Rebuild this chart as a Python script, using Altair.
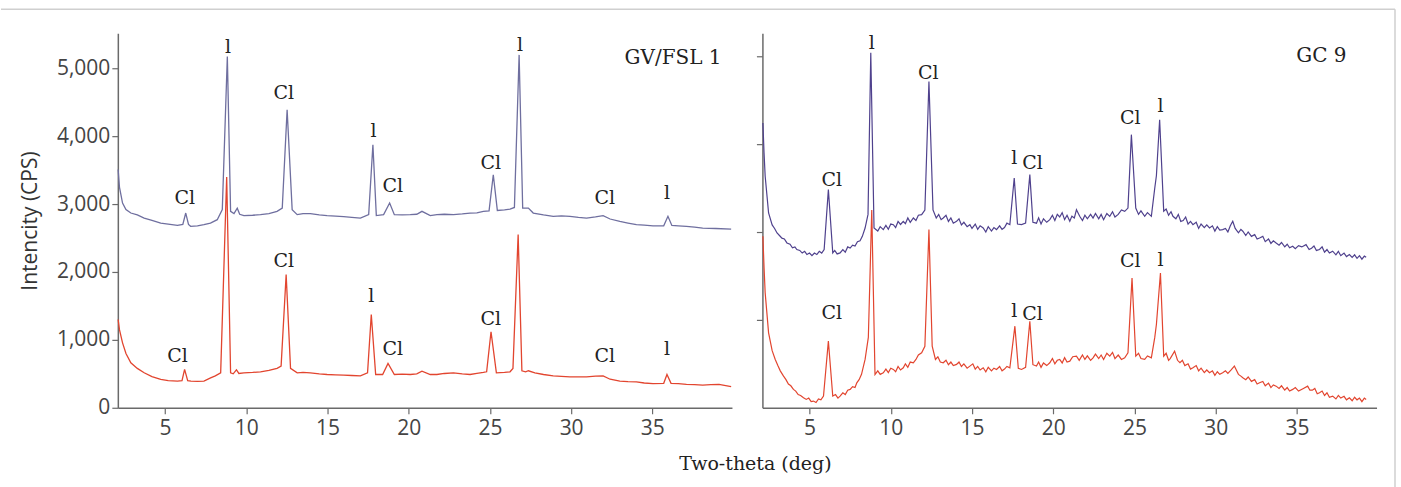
import altair as alt
import pandas as pd

# ---------------- data ----------------
# GV/FSL 1, upper trace (purple-grey)
gv_top_x = [2.12, 2.2, 2.39, 2.6, 2.9, 3.3, 3.72, 4.2, 4.74, 5.2, 5.77, 6.1, 6.28, 6.45, 6.58, 7.0, 7.4, 7.8, 8.22, 8.53, 8.84, 9.04, 9.25, 9.45, 9.6, 9.86, 10.4, 10.88, 11.4, 11.9, 12.22, 12.52, 12.83, 13.14, 13.5, 13.95, 14.5, 14.98, 15.5, 16.0, 16.5, 17.03, 17.54, 17.8, 18.01, 18.46, 18.83, 19.12, 19.6, 20.1, 20.5, 20.82, 21.33, 21.74, 22.2, 22.76, 23.3, 23.78, 24.2, 24.6, 24.95, 25.21, 25.46, 25.9, 26.24, 26.51, 26.8, 27.02, 27.37, 27.67, 28.3, 28.9, 29.4, 29.93, 30.45, 30.95, 31.5, 31.97, 32.4, 33.0, 33.5, 34.02, 34.5, 35.04, 35.7, 35.96, 36.2, 36.6, 37.1, 37.6, 38.1, 38.9, 39.85]
gv_top_y = [3510, 3250, 3015, 2920, 2868, 2840, 2794, 2760, 2720, 2705, 2687, 2700, 2868, 2700, 2672, 2680, 2697, 2720, 2770, 2918, 5172, 2893, 2860, 2940, 2850, 2830, 2835, 2844, 2860, 2893, 2941, 4388, 2918, 2844, 2860, 2859, 2840, 2830, 2822, 2815, 2805, 2794, 2844, 3874, 2830, 2844, 3015, 2844, 2840, 2844, 2850, 2893, 2830, 2844, 2850, 2844, 2855, 2868, 2870, 2893, 2900, 3432, 2905, 2915, 2925, 2950, 5197, 2940, 2940, 2868, 2840, 2820, 2825, 2820, 2805, 2794, 2810, 2830, 2780, 2745, 2720, 2696, 2690, 2680, 2680, 2819, 2685, 2680, 2672, 2660, 2647, 2640, 2632]

# GV/FSL 1, lower trace (red)
gv_bot_x = [2.12, 2.2, 2.39, 2.6, 2.9, 3.3, 3.72, 4.2, 4.74, 5.2, 5.77, 6.05, 6.21, 6.4, 6.6, 7.0, 7.4, 7.81, 8.1, 8.43, 8.8, 9.04, 9.2, 9.4, 9.55, 9.86, 10.4, 10.88, 11.4, 11.9, 12.15, 12.46, 12.73, 13.14, 13.5, 13.95, 14.5, 14.98, 15.5, 16.0, 16.5, 17.03, 17.47, 17.7, 17.97, 18.4, 18.73, 19.12, 19.6, 20.1, 20.5, 20.82, 21.33, 21.74, 22.2, 22.76, 23.3, 23.78, 24.2, 24.6, 24.8, 25.07, 25.4, 25.9, 26.24, 26.42, 26.74, 26.97, 27.2, 27.37, 27.77, 28.3, 28.9, 29.4, 29.93, 30.45, 30.95, 31.5, 31.97, 32.4, 33.0, 33.5, 34.02, 34.5, 35.04, 35.7, 35.9, 36.15, 36.6, 37.1, 37.6, 38.1, 38.6, 39.1, 39.85]
gv_bot_y = [1300, 1150, 956, 800, 662, 580, 515, 460, 417, 400, 393, 400, 565, 400, 393, 390, 393, 441, 470, 515, 3400, 515, 500, 560, 505, 515, 520, 530, 550, 580, 613, 1962, 580, 515, 520, 515, 500, 490, 485, 480, 475, 470, 515, 1374, 490, 490, 653, 490, 495, 490, 500, 540, 490, 490, 505, 515, 500, 490, 505, 520, 530, 1120, 515, 520, 530, 580, 2550, 545, 530, 545, 515, 490, 470, 462, 455, 455, 455, 465, 470, 420, 393, 385, 380, 365, 355, 360, 490, 360, 355, 345, 340, 333, 340, 345, 310]

# GC 9, upper trace (purple)
gc_top_x = [2.13, 2.2, 2.27, 2.48, 2.7, 2.85, 3.0, 3.15, 3.3, 3.45, 3.61, 3.8, 3.95, 4.1, 4.22, 4.4, 4.55, 4.7, 4.84, 5.0, 5.15, 5.3, 5.45, 5.6, 5.75, 5.9, 6.16, 6.43, 6.55, 6.7, 6.88, 7.05, 7.2, 7.35, 7.5, 7.65, 7.8, 7.95, 8.11, 8.25, 8.42, 8.6, 8.77, 8.97,
            9.2, 9.35, 9.54, 9.7, 9.85, 10.0, 10.16, 10.3, 10.45, 10.6, 10.77, 10.9, 11.05, 11.2, 11.39, 11.55, 11.7, 11.9, 12.1, 12.35, 12.6, 12.8, 12.95, 13.1, 13.23, 13.4, 13.55, 13.7, 13.85, 14.05, 14.2, 14.35, 14.5, 14.7, 14.87, 15.0, 15.2, 15.35, 15.5, 15.69, 15.85, 16.0, 16.2, 16.35, 16.51, 16.7, 16.85, 17.0, 17.15, 17.33, 17.6, 17.8, 18.05, 18.3, 18.56, 18.75, 18.97,
            19.1, 19.25, 19.4, 19.6, 19.79, 19.95, 20.1, 20.25, 20.4, 20.55, 20.7, 20.85, 21.02, 21.15, 21.3, 21.43, 21.63, 21.8, 21.95, 22.1, 22.3, 22.45, 22.6, 22.8, 22.95, 23.1, 23.3, 23.48, 23.65, 23.8, 24.0, 24.2, 24.4, 24.6, 24.81, 25.08, 25.25, 25.4, 25.63, 25.8, 26.04, 26.25, 26.35, 26.55, 26.8, 26.95, 27.1, 27.25, 27.37, 27.55, 27.7, 27.85, 28.0, 28.15, 28.3, 28.45, 28.6, 28.8, 28.95, 29.1, 29.3, 29.45, 29.62, 29.8, 29.95,
            30.1, 30.25, 30.43, 30.6, 30.75, 30.9, 31.05, 31.2, 31.4, 31.55, 31.67, 31.85, 32.0, 32.2, 32.4, 32.55, 32.7, 32.9, 33.05, 33.25, 33.4, 33.55, 33.72, 33.9, 34.05, 34.25, 34.4, 34.55, 34.74, 34.9, 35.1, 35.3, 35.56, 35.75, 35.9, 36.05, 36.2, 36.39, 36.55, 36.7, 36.85, 37.0, 37.2, 37.4, 37.55, 37.7, 37.9, 38.05, 38.23, 38.4, 38.55, 38.7, 38.85, 39.0, 39.15, 39.26]
gc_top_y = [3239, 2900, 2633, 2216, 2080, 2040, 1989, 1960, 1930, 1920, 1875, 1860, 1820, 1830, 1800, 1790, 1760, 1780, 1743, 1760, 1730, 1760, 1743, 1780, 1760, 1800, 2482, 1762, 1790, 1750, 1762, 1800, 1770, 1830, 1817, 1850, 1840, 1890, 1900, 1950, 2045, 2200, 4040, 2045,
            2010, 2060, 2027, 2075, 2030, 2090, 2083, 2050, 2120, 2085, 2121, 2095, 2160, 2110, 2159, 2130, 2190, 2197, 2250, 3712, 2250, 2159, 2200, 2140, 2159, 2190, 2120, 2160, 2100, 2121, 2150, 2080, 2110, 2060, 2083, 2040, 2090, 2030, 2070, 2045, 2000, 2060, 2010, 2050, 2027, 2070, 2030, 2050, 2100, 2083, 2614, 2090, 2083, 2100, 2652, 2110, 2100,
            2160, 2090, 2150, 2110, 2140, 2190, 2130, 2200, 2170, 2220, 2140, 2190, 2121, 2180, 2160, 2254, 2178, 2130, 2190, 2150, 2200, 2159, 2210, 2150, 2200, 2140, 2210, 2178, 2230, 2170, 2200, 2250, 2235, 2272, 3107, 2272, 2200, 2240, 2178, 2220, 2178, 2500, 2640, 3277, 2235, 2260, 2190, 2230, 2178, 2150, 2200, 2120, 2130, 2170, 2090, 2120, 2083, 2110, 2040, 2090, 2050, 2080, 2045, 2070, 2010,
            2060, 2020, 2027, 2040, 2000, 2070, 2121, 2040, 1990, 2030, 2008, 1960, 2000, 1950, 1970, 1920, 1932, 1950, 1890, 1920, 1870, 1900, 1875, 1850, 1880, 1830, 1860, 1820, 1837, 1810, 1845, 1830, 1856, 1800, 1815, 1840, 1790, 1800, 1830, 1770, 1800, 1760, 1781, 1740, 1780, 1730, 1760, 1720, 1743, 1710, 1740, 1700, 1730, 1690, 1725, 1712]

# GC 9, lower trace (red)
gc_bot_x = [2.13, 2.2, 2.27, 2.48, 2.7, 2.89, 3.05, 3.2, 3.4, 3.55, 3.7, 3.85, 4.01, 4.15, 4.3, 4.45, 4.63, 4.8, 4.95, 5.1, 5.24, 5.4, 5.55, 5.7, 5.86, 6.16, 6.43, 6.6, 6.75, 6.88, 7.05, 7.2, 7.35, 7.5, 7.65, 7.8, 7.91, 8.05, 8.2, 8.42, 8.62, 8.83, 9.03,
            9.2, 9.35, 9.54, 9.7, 9.85, 10.0, 10.16, 10.3, 10.45, 10.6, 10.77, 10.9, 11.05, 11.2, 11.39, 11.55, 11.7, 11.9, 12.1, 12.35, 12.55, 12.75, 12.9, 13.05, 13.23, 13.4, 13.55, 13.7, 13.85, 14.05, 14.2, 14.35, 14.5, 14.7, 14.87, 15.05, 15.2, 15.35, 15.5, 15.69, 15.85, 16.0, 16.2, 16.35, 16.51, 16.7, 16.85, 17.0, 17.15, 17.33, 17.64, 17.85, 18.05, 18.3, 18.56, 18.75, 18.97,
            19.1, 19.25, 19.4, 19.6, 19.79, 19.95, 20.1, 20.25, 20.4, 20.55, 20.7, 20.85, 21.02, 21.2, 21.43, 21.6, 21.8, 21.95, 22.1, 22.3, 22.45, 22.6, 22.8, 22.95, 23.1, 23.3, 23.48, 23.65, 23.8, 24.0, 24.2, 24.4, 24.6, 24.85, 25.08, 25.25, 25.4, 25.63, 25.8, 26.04, 26.25, 26.35, 26.6, 26.8, 26.95, 27.1, 27.2, 27.47, 27.65, 27.8, 27.95, 28.1, 28.3, 28.45, 28.6, 28.8, 28.95, 29.1, 29.3, 29.45, 29.62, 29.8, 29.95,
            30.1, 30.25, 30.43, 30.6, 30.75, 30.95, 31.15, 31.4, 31.55, 31.67, 31.85, 32.0, 32.2, 32.4, 32.55, 32.7, 32.9, 33.05, 33.25, 33.4, 33.55, 33.72, 33.9, 34.05, 34.25, 34.4, 34.55, 34.74, 34.9, 35.1, 35.4, 35.66, 35.8, 35.95, 36.1, 36.25, 36.39, 36.55, 36.7, 36.85, 37.0, 37.2, 37.4, 37.55, 37.7, 37.9, 38.05, 38.23, 38.4, 38.55, 38.7, 38.85, 39.0, 39.15, 39.26]
gc_bot_y = [1951, 1600, 1307, 852, 650, 550, 480, 420, 360, 320, 270, 250, 209, 190, 150, 140, 114, 95, 110, 70, 76, 60, 100, 90, 133, 758, 133, 150, 110, 133, 170, 150, 200, 209, 240, 230, 284, 320, 380, 550, 800, 2250, 378,
            420, 380, 398, 440, 400, 450, 436, 410, 470, 430, 455, 500, 460, 520, 512, 550, 600, 625, 700, 2027, 700, 550, 580, 520, 512, 540, 490, 520, 480, 493, 520, 470, 500, 450, 474, 500, 440, 470, 430, 455, 410, 460, 420, 450, 436, 470, 420, 440, 470, 455, 928, 450, 436, 460, 985, 490, 474,
            520, 460, 510, 480, 512, 560, 500, 540, 550, 510, 570, 520, 530, 580, 587, 540, 600, 550, 590, 540, 568, 610, 560, 600, 550, 620, 587, 630, 560, 600, 550, 568, 625, 1477, 587, 620, 560, 550, 590, 568, 800, 947, 1534, 587, 620, 540, 560, 644, 540, 512, 540, 480, 500, 440, 455, 480, 420, 450, 400, 430, 398, 420, 370,
            410, 380, 398, 420, 390, 430, 474, 380, 360, 341, 320, 350, 300, 320, 270, 284, 300, 250, 280, 230, 260, 246, 220, 250, 200, 230, 190, 209, 230, 190, 220, 246, 200, 200, 220, 160, 171, 190, 140, 170, 120, 133, 100, 140, 110, 130, 90, 114, 80, 120, 90, 110, 70, 110, 95]

# peak labels (position in data units, text)
gv_lab_x = [6.22, 8.88, 12.32, 17.84, 19.03, 25.06, 26.85, 32.08, 35.9, 5.77, 12.32, 17.7, 19.03, 25.06, 32.08, 35.9]
gv_lab_y = [3088, 5319, 4632, 4069, 3270, 3603, 5344, 3088, 3162, 760, 2157, 1643, 868, 1309, 760, 859]
gv_lab_t = ["Cl", "l", "Cl", "l", "Cl", "Cl", "l", "Cl", "l", "Cl", "Cl", "l", "Cl", "Cl", "Cl", "l"]

gc_lab_x = [6.37, 8.83, 12.31, 17.6, 18.73, 24.75, 26.61, 6.37, 17.6, 18.73, 24.75, 26.61]
gc_lab_y = [2595, 4148, 3807, 2841, 2784, 3295, 3428, 1080, 1099, 1061, 1667, 1686]
gc_lab_t = ["Cl", "l", "Cl", "l", "Cl", "Cl", "l", "Cl", "l", "Cl", "Cl", "l"]

panel_names = ["GV/FSL 1", "GC 9"]
panel_name_x = [39.26, 38.05]
panel_name_y = [5157, 3997]

x_ticks = [5, 10, 15, 20, 25, 30, 35]
gv_y_ticks = [0, 1000, 2000, 3000, 4000, 5000]
gc_y_ticks = [1000, 2000, 3000, 4000]

# ---------------- styling ----------------
W, H = 615, 375
X_DOMAIN = [2.1, 39.9]
AX = dict(domainColor="#6a6a6a", tickColor="#6a6a6a", domainWidth=1.5, tickWidth=1.2,
          tickSize=6, grid=False, labelFont="Open Sans", labelFontSize=21,
          labelColor="#444444")

xscale = alt.Scale(domain=X_DOMAIN, nice=False, zero=False)
left_xaxis = alt.Axis(values=x_ticks, title="Two-theta (deg)", titleFont="DejaVu Serif",
                      titleFontSize=19, titleFontWeight="normal", titleColor="#222222",
                      titleX=638, titleY=47, titleBaseline="top", titleAlign="center",
                      labelPadding=4, **AX)
right_xaxis = alt.Axis(values=x_ticks, title=None, labelPadding=4, **AX)


def panel(top_x, top_y, bot_x, bot_y, top_color, lab_x, lab_y, lab_t, name_i,
          ydomain, xaxis, yaxis, line_w, extra=None):
    yscale = alt.Scale(domain=ydomain, nice=False, zero=True)
    enc_x = alt.X("x:Q", scale=xscale, axis=xaxis)
    enc_y = alt.Y("y:Q", scale=yscale, axis=yaxis)
    top = alt.Chart(pd.DataFrame({"x": top_x, "y": top_y})).mark_line(
        color=top_color, strokeWidth=line_w).encode(x=enc_x, y=enc_y)
    bot = alt.Chart(pd.DataFrame({"x": bot_x, "y": bot_y})).mark_line(
        color="#e2452f", strokeWidth=line_w).encode(x=enc_x, y=enc_y)
    labs = alt.Chart(pd.DataFrame({"x": lab_x, "y": lab_y, "t": lab_t})).mark_text(
        font="DejaVu Serif", fontSize=19, color="#222222", baseline="middle",
        align="center").encode(x=enc_x, y=enc_y, text="t:N")
    name = alt.Chart(pd.DataFrame({"x": [panel_name_x[name_i]], "y": [panel_name_y[name_i]],
                                   "t": [panel_names[name_i]]})).mark_text(
        font="DejaVu Serif", fontSize=20, color="#222222", baseline="middle",
        align="right").encode(x=enc_x, y=enc_y, text="t:N")
    layers = [top, bot, labs, name]
    if extra:
        layers += extra
    return alt.layer(*layers).properties(width=W, height=H)


left_yaxis = alt.Axis(values=gv_y_ticks, format=",.0f", title="Intencity (CPS)",
                      titleFont="Open Sans", titleFontSize=21, titleFontWeight="normal",
                      titleColor="#333333", titlePadding=16, labelPadding=2, **AX)
right_yaxis = alt.Axis(values=gc_y_ticks, labels=False, title=None, **AX)

# light frame around the figure (top and right edges)
frame_df = pd.DataFrame({"k": [0]})
frame_top = alt.Chart(frame_df).mark_rule(color="#cfcfcf", strokeWidth=1.5).encode(
    x=alt.value(-762.5), x2=alt.value(633.5), y=alt.value(-24))
frame_right = alt.Chart(frame_df).mark_rule(color="#cfcfcf", strokeWidth=1.5).encode(
    x=alt.value(633.5), y=alt.value(-24), y2=alt.value(455))

left = panel(gv_top_x, gv_top_y, gv_bot_x, gv_bot_y, "#6f6f9f", gv_lab_x, gv_lab_y,
             gv_lab_t, 0, [0, 5515], left_xaxis, left_yaxis, 1.3)
right = panel(gc_top_x, gc_top_y, gc_bot_x, gc_bot_y, "#4f418d", gc_lab_x, gc_lab_y,
              gc_lab_t, 1, [0, 4260], right_xaxis, right_yaxis, 1.2,
              extra=[frame_top, frame_right])

chart = alt.hconcat(left, right, spacing=30.5, bounds="flush").properties(
    padding={"left": 0, "top": 8, "right": 5, "bottom": 0},
    background="white",
).configure_view(strokeWidth=0)

chart.save("out.html", embed_options={"renderer": "svg", "actions": False})
